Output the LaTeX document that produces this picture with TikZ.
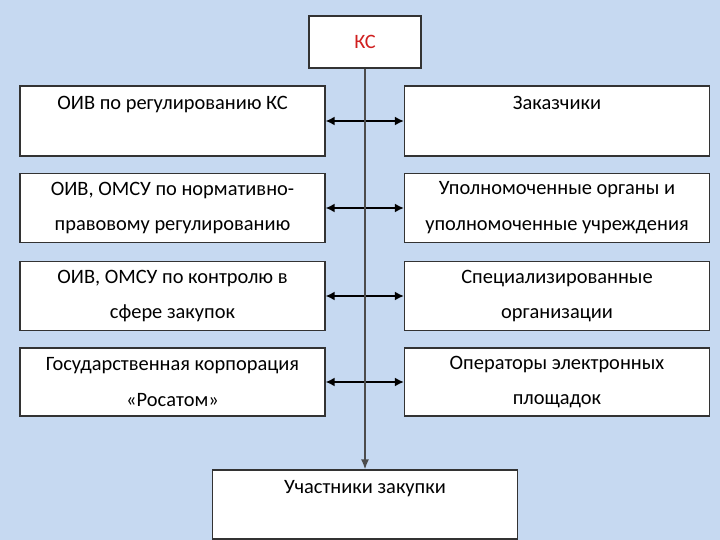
\documentclass[tikz,border=0pt]{standalone}
\usepackage{fontspec}
\setmainfont{Carlito}
\usetikzlibrary{arrows.meta}
\definecolor{bgblue}{HTML}{C6D9F1}
\definecolor{ksred}{HTML}{D01F1F}

\begin{document}
\begin{tikzpicture}[x=1bp, y=-1bp,
    entity/.style={rectangle, draw=black!80, line width=1.2bp, fill=white, minimum width=305bp, minimum height=69bp, align=center, inner sep=0pt, font=\fontsize{20.5}{36}\selectfont},
    link/.style={<->, >={Latex[length=9bp,width=9bp]}, line width=2bp, black},
    trunk/.style={->, >={Latex[length=10bp,width=8bp]}, line width=1.6bp, black!70}
]
    % Background
    \fill[bgblue] (0,0) rectangle (720,540);
    \useasboundingbox (0,0) rectangle (720,540);

    % Top and bottom
    \node[entity, minimum width=112bp, minimum height=52bp, text=ksred] (ks) at (365, 42) {КС};
    \node[entity] (part) at (365, 504.5) {Участники закупки\\\mbox{}};

    % Left column
    \node[entity, minimum height=70bp] (l1) at (172.5, 121) {ОИВ по регулированию КС\\\mbox{}};
    \node[entity] (l2) at (172.5, 208) {ОИВ, ОМСУ по нормативно-\\правовому регулированию};
    \node[entity] (l3) at (172.5, 296) {ОИВ, ОМСУ по контролю в\\сфере закупок};
    \node[entity, minimum height=68bp] (l4) at (172.5, 382) {Государственная корпорация\\«Росатом»};

    % Right column
    \node[entity, minimum height=70bp] (r1) at (557, 121) {Заказчики\\\mbox{}};
    \node[entity] (r2) at (557, 208) {Уполномоченные органы и\\уполномоченные учреждения};
    \node[entity] (r3) at (557, 296) {Специализированные\\организации};
    \node[entity, minimum height=68bp] (r4) at (557, 382) {Операторы электронных\\площадок};

    % Links
    \foreach \i in {1,...,4}
        \draw[link] (l\i.east) -- (r\i.west);

    % Vertical line
    \draw[trunk] (ks.south) -- (part.north);
\end{tikzpicture}
\end{document}
